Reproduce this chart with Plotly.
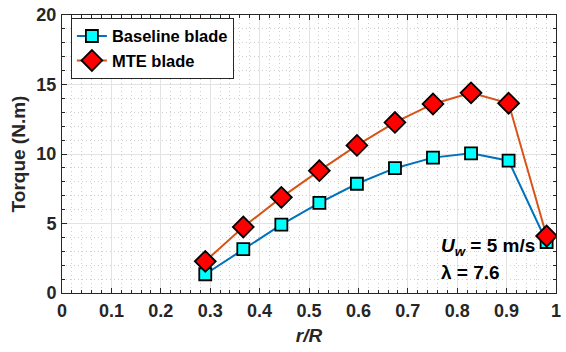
import plotly.graph_objects as go

# Radial stations (r/R) and torque per blade design
r_over_R = [0.290, 0.367, 0.444, 0.521, 0.597, 0.674, 0.751, 0.828, 0.904, 0.981]
torque_baseline = [1.35, 3.15, 4.92, 6.48, 7.86, 8.98, 9.74, 10.05, 9.52, 3.67]
torque_mte = [2.28, 4.75, 6.88, 8.80, 10.62, 12.27, 13.60, 14.40, 13.65, 4.10]

x_ticks = [0, 0.1, 0.2, 0.3, 0.4, 0.5, 0.6, 0.7, 0.8, 0.9, 1]
x_tick_text = ["0", "0.1", "0.2", "0.3", "0.4", "0.5", "0.6", "0.7", "0.8", "0.9", "1"]
y_ticks = [0, 5, 10, 15, 20]

FONT = "Liberation Sans, Arial, Helvetica, sans-serif"
INK = "#262626"

fig = go.Figure()
fig.add_trace(go.Scatter(
    x=r_over_R, y=torque_baseline, mode="lines+markers", name="Baseline blade",
    line=dict(color="#0072BD", width=2),
    marker=dict(symbol="square", size=12, color="#00FFFF",
                line=dict(color="black", width=1.8)),
))
fig.add_trace(go.Scatter(
    x=r_over_R, y=torque_mte, mode="lines+markers", name="MTE blade",
    line=dict(color="#D95319", width=2),
    marker=dict(symbol="diamond", size=16, color="#FF0000",
                line=dict(color="black", width=1.8)),
))

axis_common = dict(
    showline=True, linecolor=INK, linewidth=1, mirror="allticks",
    ticks="inside", ticklen=5, tickcolor=INK,
    showgrid=True, gridcolor="#E3E3E3", gridwidth=1, zeroline=False,
    tickfont=dict(family=FONT, size=18, color=INK, weight="bold"),
)
minor_common = dict(ticks="inside", ticklen=3, tickcolor=INK,
                    showgrid=True, gridcolor="#CFCFCF", griddash="1px,3px", gridwidth=1)

fig.update_xaxes(
    range=[0, 1], tickvals=x_ticks, ticktext=x_tick_text,
    minor=dict(dtick=0.02, **minor_common),
    ticklabelstandoff=1,
    title=dict(text="<b><i>r/R</i></b>", font=dict(family=FONT, size=19, color=INK),
               standoff=9),
    **axis_common,
)
fig.update_yaxes(
    range=[0, 20], tickvals=y_ticks,
    minor=dict(dtick=1, **minor_common),
    ticklabelstandoff=1,
    title=dict(text="<b>Torque (N.m)</b>", font=dict(family=FONT, size=19, color=INK),
               standoff=5),
    **axis_common,
)

# Operating condition labels
fig.add_annotation(
    x=0.763, y=3.3, xref="x", yref="y", xanchor="left", yanchor="middle",
    text="<b><i>U</i><sub><i>w</i></sub> = 5 m/s</b>", showarrow=False,
    font=dict(family=FONT, size=19, color="black"),
)
fig.add_annotation(
    x=0.763, y=1.45, xref="x", yref="y", xanchor="left", yanchor="middle",
    text="<b>λ = 7.6</b>", showarrow=False,
    font=dict(family=FONT, size=19, color="black"),
)

fig.update_layout(
    width=566, height=352,
    margin=dict(l=62, r=5, t=12, b=59),
    paper_bgcolor="white", plot_bgcolor="white",
    showlegend=True,
    legend=dict(
        x=0.018, y=0.99, xanchor="left", yanchor="top",
        bgcolor="white", bordercolor=INK, borderwidth=1,
        font=dict(family=FONT, size=16.5, color="black", weight="bold"),
        tracegroupgap=0, itemwidth=30,
    ),
)

fig.write_html("out.html")
